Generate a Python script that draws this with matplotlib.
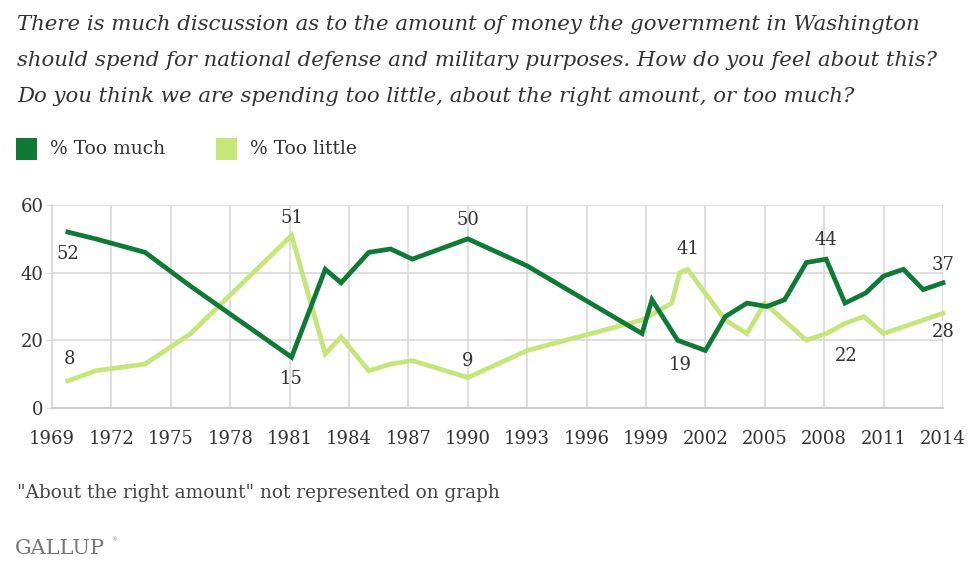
import matplotlib
matplotlib.use("Agg")
import matplotlib.pyplot as plt
from matplotlib.patches import Rectangle

# ---- data ----
years_much = [1969.8, 1971.2, 1973.7, 1976.0, 1981.1, 1982.8, 1983.6, 1985.0, 1986.1,
              1987.2, 1990.0, 1993.0, 1998.8, 1999.3, 2000.6, 2002.0, 2003.0, 2004.1,
              2005.1, 2006.0, 2007.1, 2008.1, 2009.05, 2010.1, 2011.0, 2012.0, 2013.0, 2014.0]
too_much = [52, 50, 46, 36, 15, 41, 37, 46, 47,
            44, 50, 42, 22, 32, 20, 17, 27, 31,
            30, 32, 43, 44, 31, 34, 39, 41, 35, 37]

years_little = [1969.8, 1971.2, 1973.7, 1976.0, 1981.1, 1982.8, 1983.6, 1985.0, 1986.1,
                1987.2, 1990.0, 1993.0, 1998.8, 2000.3, 2000.7, 2001.1, 2003.0, 2004.1,
                2005.0, 2007.1, 2008.1, 2009.05, 2010.0, 2011.0, 2012.0, 2013.0, 2014.0]
too_little = [8, 11, 13, 22, 51, 16, 21, 11, 13,
              14, 9, 17, 26, 31, 40, 41, 26, 22,
              31, 20, 22, 25, 27, 22, 24, 26, 28]

x_ticks = [1969, 1972, 1975, 1978, 1981, 1984, 1987, 1990, 1993, 1996, 1999, 2002, 2005, 2008, 2011, 2014]
y_ticks = [0, 20, 40, 60]

# labels: (index, text, dx_px, dy_px)
labels_much = [(0, "52", 0, -22), (4, "15", 0, -22), (10, "50", 0, 19), (14, "19", 3, -25),
               (21, "44", 0, 19), (27, "37", 0, 18)]
labels_little = [(0, "8", 2, 22), (4, "51", 0, 17), (10, "9", 0, 17), (15, "41", 0, 20),
                 (20, "22", 20, -22), (26, "28", 0, -19)]

title_lines = ["There is much discussion as to the amount of money the government in Washington",
               "should spend for national defense and military purposes. How do you feel about this?",
               "Do you think we are spending too little, about the right amount, or too much?"]
legend_names = ["% Too much", "% Too little"]
footnote = '"About the right amount" not represented on graph'

DARK = "#0e7a35"
LIGHT = "#c6e67a"
TEXT = "#333333"
GRID = "#d9d9d9"

plt.rcParams["font.family"] = ["DejaVu Serif"]

fig = plt.figure(figsize=(9.8, 5.72), dpi=100)
W, H = 980, 572

ax = fig.add_axes([52 / W, (H - 408) / H, (943 - 52) / W, (408 - 205) / H])
ax.set_xlim(1969, 2014)
ax.set_ylim(0, 60)

for s in ["top", "right"]:
    ax.spines[s].set_visible(False)
ax.spines["left"].set_color(GRID)
ax.spines["bottom"].set_color("#cccccc")
ax.spines["left"].set_linewidth(1.2)
ax.spines["bottom"].set_linewidth(1.5)

ax.set_xticks(x_ticks)
ax.set_yticks(y_ticks)
ax.set_xticklabels([str(v) for v in x_ticks], fontsize=13, color=TEXT)
ax.set_yticklabels([str(v) for v in y_ticks], fontsize=13, color=TEXT)
ax.tick_params(axis="x", length=0, pad=16)
ax.tick_params(axis="y", length=4, color=GRID, pad=2)
ax.grid(True, color=GRID, linewidth=1.2)
ax.set_axisbelow(True)

ax.plot(years_little, too_little, color=LIGHT, lw=3.4, solid_joinstyle="miter", zorder=3, clip_on=False)
ax.plot(years_much, too_much, color=DARK, lw=3.4, solid_joinstyle="miter", zorder=4, clip_on=False)

for idx, txt, dx, dy in labels_much:
    ax.annotate(txt, (years_much[idx], too_much[idx]), xytext=(dx, dy), textcoords="offset pixels",
                ha="center", va="center", fontsize=13, color=TEXT, zorder=5)
for idx, txt, dx, dy in labels_little:
    ax.annotate(txt, (years_little[idx], too_little[idx]), xytext=(dx, dy), textcoords="offset pixels",
                ha="center", va="center", fontsize=13, color=TEXT, zorder=5)

# title
for i, line in enumerate(title_lines):
    fig.text(17 / W, 1 - (24 + 36.5 * i) / H, line, ha="left", va="center", fontsize=15.3,
             style="italic", color=TEXT)

# legend
for i, (name, col) in enumerate(zip(legend_names, [DARK, LIGHT])):
    x0 = 16 + i * 200
    fig.patches.append(Rectangle((x0 / W, 1 - 160 / H), 21 / W, 22 / H, transform=fig.transFigure,
                                 facecolor=col, edgecolor="none"))
    fig.text((x0 + 34) / W, 1 - 149 / H, name, ha="left", va="center", fontsize=13.5, color=TEXT)

fig.text(17 / W, 1 - 493 / H, footnote, ha="left", va="center", fontsize=13.3, color="#444444")
fig.text(15 / W, 1 - 548 / H, "GALLUP", ha="left", va="center", fontsize=15, color="#777777")
fig.text(111 / W, 1 - 540 / H, "\u00ae", ha="left", va="center", fontsize=4, color="#777777")

fig.savefig("out.png", dpi=100, facecolor="white")
